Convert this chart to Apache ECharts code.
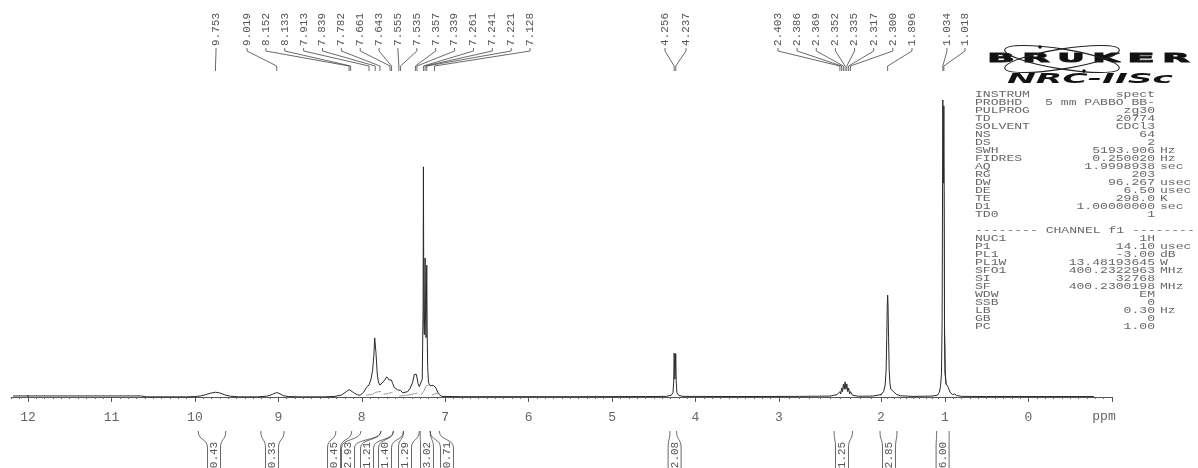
<!DOCTYPE html>
<html><head><meta charset="utf-8">
<script src="https://cdn.jsdelivr.net/npm/echarts@6/dist/echarts.min.js"></script>
<style>html,body{margin:0;padding:0;background:#fff;}#c{width:1198px;height:468px;}</style>
</head><body><div id="c"></div>
<script>
// ---------- DATA ----------
// spectrum trace: [ppm, relative intensity]
const spectrum = [
[12.18,0.35],[11.5,0.35],[10.65,0.35],[10.58,0.05],[10.1,0.05],
[10.0,0.15],[9.93,0.35],[9.87,0.8],[9.81,1.3],[9.753,1.6],[9.70,1.35],[9.64,0.7],[9.57,0.25],[9.48,0.05],
[9.25,0.05],[9.13,0.3],[9.07,0.9],[9.019,1.5],[8.98,1.1],[8.94,0.45],[8.88,0.15],[8.75,0.05],
[8.45,0.05],[8.32,0.2],[8.24,0.7],[8.18,1.9],[8.152,2.5],[8.133,2.4],[8.10,1.5],[8.05,0.7],[8.02,0.6],
[7.98,1.5],[7.94,3.4],[7.913,4.0],[7.89,6],[7.87,9],[7.855,14],[7.845,19.9],[7.839,19.5],[7.83,15],[7.815,8],[7.80,5],[7.782,4.0],[7.76,4.3],[7.73,5.5],[7.70,6.8],[7.69,7.1],[7.675,5.8],[7.665,5.2],[7.655,5.6],[7.645,5.7],[7.63,4.6],[7.61,3.2],[7.59,2.6],[7.57,2.4],[7.555,2.5],[7.535,2.2],[7.51,1.4],[7.49,1.2],[7.45,1.8],[7.42,2.9],[7.39,5.0],[7.37,7.6],[7.357,8.2],[7.345,7.6],[7.339,7.0],[7.325,4.5],[7.31,3.5],[7.29,3.3],
[7.275,6],[7.265,30],[7.261,77.5],[7.256,25],[7.25,21],[7.246,30],[7.241,46.8],[7.236,28],[7.23,20],[7.226,30],[7.221,44.4],[7.216,22],[7.21,10],[7.20,4.8],[7.18,3.8],[7.16,3.6],[7.14,3.9],[7.128,4.0],[7.11,3.0],[7.09,1.6],[7.07,0.8],[7.04,0.2],
[6.8,0.1],[5.5,0.1],[4.6,0.15],[4.35,0.2],[4.29,0.6],[4.27,1.5],[4.262,5],[4.256,14.8],[4.2465,6],[4.237,14.6],[4.231,5],[4.223,1.5],[4.20,0.5],[4.15,0.2],
[3.5,0.15],[2.8,0.2],[2.5,0.3],[2.43,0.8],[2.403,1.8],[2.395,1.0],[2.386,3.0],[2.378,1.8],[2.369,4.3],[2.36,2.6],[2.352,5.1],[2.343,2.6],[2.335,4.4],[2.326,1.8],[2.317,3.0],[2.308,1.0],[2.300,1.8],[2.28,0.6],[2.22,0.25],
[2.08,0.3],[2.0,0.8],[1.96,1.8],[1.935,4],[1.92,9],[1.91,20],[1.902,31],[1.896,34.3],[1.89,31],[1.882,20],[1.872,9],[1.86,4.5],[1.845,2.6],[1.83,2.0],[1.81,1.9],[1.79,1.6],[1.76,0.9],[1.70,0.4],
[1.5,0.2],[1.2,0.3],[1.12,0.6],[1.09,1.5],[1.07,3.5],[1.055,8],[1.045,25],[1.034,100],[1.026,72],[1.018,98],[1.008,25],[0.998,8],[0.985,4.4],[0.975,4.6],[0.96,3.2],[0.94,1.6],[0.91,0.8],[0.885,1.0],[0.86,0.5],[0.8,0.2],[0.5,0.15],[-0.785,0.15]
];
// integral curve pieces (aromatic region)
const integralPieces = [
[[7.95,0.6],[7.87,0.9],[7.83,1.6],[7.77,1.9]],
[[7.74,0.9],[7.68,1.2],[7.63,1.6]],
[[7.55,0.3],[7.45,0.6],[7.37,1.1],[7.33,1.3]],
[[7.29,0.7],[7.26,1.8],[7.23,3.6],[7.19,4.2]],
[[7.16,0.6],[7.12,1.1],[7.07,1.3]]
];
// peak picking labels (ppm)
const peakLabels = [9.753,9.019,8.152,8.133,7.913,7.839,7.782,7.661,7.643,7.555,7.535,7.357,7.339,7.261,7.241,7.221,7.128,4.256,4.237,2.403,2.386,2.369,2.352,2.335,2.317,2.300,1.896,1.034,1.018];
// integrals
const integralValues = ['0.43','0.33','0.45','2.93','1.21','1.40','1.29','3.02','0.71','2.08','1.25','2.85','6.00'];
const integralRanges = [[9.96,9.63],[9.21,8.93],[8.31,8.12],[8.01,7.77],[7.77,7.62],[7.62,7.50],[7.50,7.31],[7.30,7.18],[7.18,7.07],[4.306,4.227],[2.46,2.28],[2.01,1.75],[1.13,0.95]];
// acquisition parameters
const paramNames = ['INSTRUM','PROBHD','PULPROG','TD','SOLVENT','NS','DS','SWH','FIDRES','AQ','RG','DW','DE','TE','D1','TD0','','-------- CHANNEL f1 --------','NUC1','P1','PL1','PL1W','SFO1','SI','SF','WDW','SSB','LB','GB','PC'];
const paramValues = ['spect','5 mm PABBO BB-','zg30','20774','CDCl3','64','2','5193.906','0.250020','1.9998938','203','96.267','6.50','298.0','1.00000000','1','','','1H','14.10','-3.00','13.48193645','400.2322963','32768','400.2300198','EM','0','0.30','0','1.00'];
const paramUnits = ['','','','','','','','Hz','Hz','sec','','usec','usec','K','sec','','','','','usec','dB','W','MHz','','MHz','','','Hz','',''];

// ---------- LAYOUT ----------
const X12 = 28, PPU = 83.44;            // px of 12 ppm, px per ppm on the regular part
const axisY = 405, topY = 100;
// piecewise axis segments as in the reference print
const segs = [
  {min:12, max:12.2, left:X12-0.2*PPU, width:0.2*PPU, interval:0.1, labels:false},
  {min:3, max:12, left:X12, width:9*PPU, interval:1, labels:true, hideMax:false, hideMin:false},
  {min:2, max:3, left:779, width:102, interval:1, labels:true, hideMax:true},
  {min:1, max:2, left:881, width:64, interval:1, labels:true, hideMax:true},
  {min:-1, max:1, left:945, width:2*PPU, interval:1, labels:true, hideMax:true, hideMin:true}
];
const labelGroups = [{n:1,x0:216,step:0},{n:16,x0:247,step:18.87},{n:2,x0:665,step:21},{n:8,x0:778,step:19.14},{n:2,x0:947,step:18}];
const integralBoxX = [214,272,334,348,367,385,405,427,447,674.6,842,889,942.6];

const MONO = '"Liberation Mono", "DejaVu Sans Mono", monospace';
const grids = [], xAxes = [], yAxes = [], series = [];
segs.forEach((s,i)=>{
  grids.push({left:s.left, width:s.width, top:topY, bottom:468-axisY});
  xAxes.push({
    type:'value', gridIndex:i, inverse:true, min:s.min, max:s.max, interval:s.interval,
    axisLine:{show:true, lineStyle:{color:'#555', width:1}},
    axisTick:{show:true, length: s.labels?5:2, lineStyle:{color:'#555', width:1}},
    minorTick:{show:s.labels, splitNumber:10, length:2, lineStyle:{color:'#666', width:1}},
    splitLine:{show:false},
    axisLabel:{show:s.labels, color:'#666', fontFamily:MONO, fontSize:13, margin:6,
      showMaxLabel: !s.hideMax, showMinLabel: !s.hideMin,
      formatter:(v)=>String(Math.round(v))}
  });
  yAxes.push({type:'value', gridIndex:i, show:false, min:-2.7, max:100});
  series.push({type:'line', xAxisIndex:i, yAxisIndex:i, data:spectrum, showSymbol:false, symbol:'none',
    clip:true, lineStyle:{color:'#2a2a2a', width:1}, animation:false, silent:true});
});
integralPieces.forEach(p=>{
  series.push({type:'line', xAxisIndex:1, yAxisIndex:1, data:p, showSymbol:false, symbol:'none',
    lineStyle:{color:'#888', width:0.8}, animation:false, silent:true});
});

const chart = echarts.init(document.getElementById('c'));
chart.setOption({backgroundColor:'#fff', animation:false, grid:grids, xAxis:xAxes, yAxis:yAxes, series:series});

function px(p){
  for (let i=0;i<segs.length;i++){
    if (p>=segs[i].min && p<=segs[i].max) return chart.convertToPixel({xAxisIndex:i}, p);
  }
  return p>12.2 ? chart.convertToPixel({xAxisIndex:0}, p) : chart.convertToPixel({xAxisIndex:4}, p);
}

const g = [];
// peak labels with leader lines
let k = 0;
labelGroups.forEach(grp=>{
  for (let j=0;j<grp.n;j++,k++){
    const p = peakLabels[k];
    const lx = grp.x0 + j*grp.step;
    const pp = px(p);
    g.push({type:'polyline', silent:true, shape:{points:[[lx,48],[lx,51],[pp,66],[pp,71]]},
      style:{stroke:'#444', lineWidth:0.8, fill:'none'}});
    g.push({type:'text', silent:true, x:lx, y:46, rotation:Math.PI/2,
      style:{text:p.toFixed(3), font:'11px '+MONO, fill:'#555', align:'left', verticalAlign:'middle', textAlign:'left', textVerticalAlign:'middle'}});
  }
});
// integral brackets
const HW = 6.5;
integralValues.forEach((v,i)=>{
  const [a,b] = integralRanges[i];
  const xa = px(a), xb = px(b), c = integralBoxX[i];
  [[xa, c-HW],[xb, c+HW]].forEach(([x0,x1])=>{
    g.push({type:'bezierCurve', silent:true, shape:{x1:x0,y1:431,cpx1:x0,cpy1:441,cpx2:x1,cpy2:438,x2:x1,y2:448},
      style:{stroke:'#444', lineWidth:0.8, fill:'none'}});
    g.push({type:'line', silent:true, shape:{x1:x1,y1:448,x2:x1,y2:470}, style:{stroke:'#444', lineWidth:0.8}});
  });
  g.push({type:'text', silent:true, x:c, y:455, rotation:Math.PI/2,
    style:{text:v, font:'11px '+MONO, fill:'#555', align:'center', verticalAlign:'middle', textAlign:'center', textVerticalAlign:'middle'}});
});
// ppm unit
g.push({type:'text', silent:true, x:1104, y:417, style:{text:'ppm', font:'13px '+MONO, fill:'#666', align:'center', verticalAlign:'middle', textAlign:'center', textVerticalAlign:'middle'}});

// Bruker logo
const ctx = document.createElement('canvas').getContext('2d');
function fitScale(text, font, w){ ctx.font = font; const m = ctx.measureText(text).width; return m>0 ? w/m : 1; }
const LF = 'bold 12px "DejaVu Sans", sans-serif';
'BRUKER'.split('').forEach((ch,i)=>{
  const cx = 1001 + i*35;
  g.push({type:'text', silent:true, x:cx, y:59, scaleX:fitScale(ch, LF, 27),
    style:{text:ch, font:LF, fill:'#111', align:'center', verticalAlign:'middle', textAlign:'center', textVerticalAlign:'middle', stroke:'#111', lineWidth:0.8}});
});
[0.16,-0.16].forEach(r=>{
  g.push({type:'ellipse', silent:true, x:1062, y:59, rotation:r, shape:{cx:0, cy:0, rx:58, ry:10},
    style:{stroke:'#222', lineWidth:1.1, fill:'none'}});
});
g.push({type:'circle', silent:true, shape:{cx:1040, cy:47, r:1.8}, style:{fill:'#111'}});
g.push({type:'circle', silent:true, shape:{cx:1084, cy:71, r:1.8}, style:{fill:'#111'}});
const NF = 'italic bold 14px "DejaVu Sans", sans-serif';
g.push({type:'text', silent:true, x:1090, y:79, scaleX:fitScale('NRC-IISc', NF, 166),
  style:{text:'NRC-IISc', font:NF, fill:'#111', align:'center', verticalAlign:'middle', textAlign:'center', textVerticalAlign:'middle'}});

// parameter block
const PF = '9px '+MONO;
const psx = 7.85 / (function(){ctx.font = PF; return ctx.measureText('M').width || 5.4;})();
const blockStyle = {font:PF, fill:'#666', lineHeight:8, verticalAlign:'top', textVerticalAlign:'top'};
g.push({type:'text', silent:true, x:975, y:91, scaleX:psx, style:Object.assign({text:paramNames.join('\n'), align:'left', textAlign:'left'}, blockStyle)});
g.push({type:'text', silent:true, x:1155, y:91, scaleX:psx, style:Object.assign({text:paramValues.join('\n'), align:'right', textAlign:'right'}, blockStyle)});
g.push({type:'text', silent:true, x:1160, y:91, scaleX:psx, style:Object.assign({text:paramUnits.join('\n'), align:'left', textAlign:'left'}, blockStyle)});

chart.setOption({graphic:{elements:g}});
</script></body></html>
